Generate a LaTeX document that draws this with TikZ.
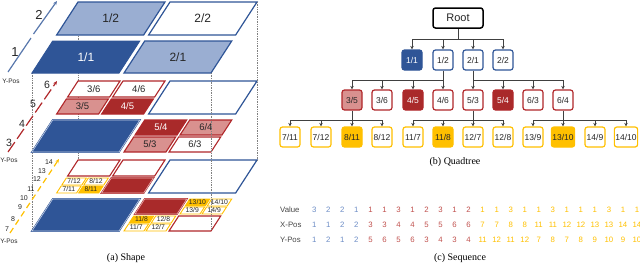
\documentclass[tikz,border=0pt]{standalone}
\usepackage{fontspec}
\setmainfont{Liberation Serif}
\setsansfont{Liberation Sans}
\usetikzlibrary{arrows.meta,calc}
\definecolor{dblue}{HTML}{2F5597}
\definecolor{lblue}{HTML}{9AAED2}
\definecolor{dred}{HTML}{A92A2A}
\definecolor{pinkc}{HTML}{D9918F}
\definecolor{ored}{HTML}{B0272A}
\definecolor{yel}{HTML}{FFC000}
\definecolor{sblue}{HTML}{6D8DC6}
\definecolor{sred}{HTML}{C0504D}
\definecolor{syel}{HTML}{FFC000}
\definecolor{arr}{HTML}{404040}
\definecolor{tdark}{HTML}{262626}
\newcommand\pc[8]{%
  \draw[#5] (#1,-#3) -- (#2,-#3) -- (#2,-#4) -- (#1,-#4) -- cycle;
  \node[#6] (#7) at ({(#1+#2)/2},{-(#3+#4)/2}) {#8};}
\newcommand\pcn[5]{%
  \draw[#5] (#1,-#3) -- (#2,-#3) -- (#2,-#4) -- (#1,-#4) -- cycle;}
\tikzset{
  cdb/.style={fill=dblue, draw=dblue, line width=1pt},
  cdbd/.style={fill=dblue, draw=dblue, line width=0.5pt, double=lblue!60!white, double distance=0.6pt},
  clb/.style={fill=lblue, draw=dblue, line width=1.2pt},
  cbo/.style={fill=white, draw=dblue, line width=1.2pt},
  cdr/.style={fill=dred, draw=ored, line width=1.1pt},
  cdrd/.style={fill=dred, draw=ored, line width=0.5pt, double=pinkc!70!white, double distance=0.6pt},
  cpk/.style={fill=pinkc, draw=ored, line width=1.1pt},
  cro/.style={fill=white, draw=ored, line width=1.1pt},
  cyf/.style={fill=yel, draw=yel, line width=0.9pt},
  cyo/.style={fill=white, draw=yel, line width=0.9pt},
  tk1/.style={text=tdark, inner sep=0pt, font=\sffamily\fontsize{12}{12}\selectfont},
  tw1/.style={text=white, inner sep=0pt, font=\sffamily\fontsize{12}{12}\selectfont},
  tk2/.style={text=tdark, inner sep=0pt, font=\sffamily\fontsize{9.5}{10}\selectfont},
  tw2/.style={text=white, inner sep=0pt, font=\sffamily\fontsize{9.5}{10}\selectfont},
  tk3/.style={text=tdark, inner sep=0pt, font=\sffamily\fontsize{6.8}{7}\selectfont},
  guide/.style={gray, line width=0.7pt, densely dotted},
  axlab/.style={inner sep=0pt, text=tdark, font=\sffamily\fontsize{#1}{#1}\selectfont},
  qn/.style={rounded corners=2.5pt, minimum width=20pt, minimum height=20pt, inner sep=1pt, line width=1.2pt, text=tdark, font=\sffamily\fontsize{8.5}{9}\selectfont},
  qdb/.style={qn, fill=dblue, draw=dblue, text=white},
  qbo/.style={qn, fill=white, draw=dblue},
  qpk/.style={qn, fill=pinkc, draw=ored},
  qdr/.style={qn, fill=dred, draw=ored, text=white},
  qro/.style={qn, fill=white, draw=ored},
  qyf/.style={qn, fill=yel, draw=yel},
  qyo/.style={qn, fill=white, draw=yel},
  con/.style={arr, line width=0.8pt},
  cona/.style={arr, line width=0.8pt, -{Stealth[length=3.5pt,width=3.5pt]}},
  captxt/.style={inner sep=0pt, font=\rmfamily\fontsize{10}{10}\selectfont},
  seq/.style={inner sep=0pt, font=\sffamily\fontsize{7.8}{8}\selectfont},
}
\begin{document}
\begin{tikzpicture}[x=1pt,y=-1pt]
\useasboundingbox (0,0) rectangle (640,265);
% ---------- (a) Shape ----------
\coordinate (g1a) at (32,73);  \coordinate (g1b) at (32,231);
\coordinate (g2a) at (78,2);   \coordinate (g2b) at (78,161);
\coordinate (g3a) at (211,73); \coordinate (g3b) at (211,231);
\coordinate (g4a) at (257,2);  \coordinate (g4b) at (257,161);
\draw[guide] (g1a) -- (g1b);
\draw[guide] (g2a) -- (g2b);
% level 1
\begin{scope}[shift={(32,73)}, xslant=0.648]
\pc{0}{87}{0}{32}{cdb}{tw1}{s11}{1/1}
\pc{92}{179}{0}{32}{clb}{tk1}{s21}{2/1}
\pc{0}{87}{38}{71}{clb}{tk1}{s12}{1/2}
\pc{92}{179}{38}{71}{cbo}{tk1}{s22}{2/2}
\end{scope}
% level 2
\begin{scope}[shift={(32,152)}, xslant=0.648]
\pcn{0}{87}{0}{32}{cdbd}
\pcn{92}{179}{38}{71}{cbo}
\pc{0}{42}{38}{53}{cpk}{tk2}{s35}{3/5}
\pc{0}{42}{55}{71}{cro}{tk2}{s36}{3/6}
\pc{45}{87}{38}{53}{cdr}{tw2}{s45}{4/5}
\pc{45}{87}{55}{71}{cro}{tk2}{s46}{4/6}
\pc{92}{134}{0}{15}{cpk}{tk2}{s53}{5/3}
\pc{92}{134}{17}{32}{cdr}{tw2}{s54}{5/4}
\pc{137}{179}{0}{15}{cro}{tk2}{s63}{6/3}
\pc{137}{179}{17}{32}{cpk}{tk2}{s64}{6/4}
\end{scope}
% level 3
\begin{scope}[shift={(32,231)}, xslant=0.648]
\pcn{0}{87}{0}{32}{cdbd}
\pcn{92}{179}{38}{71}{cbo}
\pcn{0}{42}{55}{71}{cro}
\pcn{45}{87}{55}{71}{cro}
\pcn{45}{87}{38}{53}{cdrd}
\pc{0}{20}{38}{45}{cyo}{tk3}{t711}{7/11}
\pc{22}{42}{38}{45}{cyf}{tk3}{t811}{8/11}
\pc{0}{20}{46}{53}{cyo}{tk3}{t712}{7/12}
\pc{22}{42}{46}{53}{cyo}{tk3}{t812}{8/12}
\pc{92}{112}{0}{7}{cyo}{tk3}{t117}{11/7}
\pc{114}{134}{0}{7}{cyo}{tk3}{t127}{12/7}
\pc{92}{112}{8}{15}{cyf}{tk3}{t118}{11/8}
\pc{114}{134}{8}{15}{cyo}{tk3}{t128}{12/8}
\pcn{92}{134}{17}{32}{cdrd}
\pcn{137}{179}{0}{15}{cro}
\pc{137}{157}{17}{24}{cyo}{tk3}{t139}{13/9}
\pc{159}{179}{17}{24}{cyo}{tk3}{t149}{14/9}
\pc{137}{157}{25}{32}{cyf}{tk3}{t1310}{13/10}
\pc{159}{179}{25}{32}{cyo}{tk3}{t1410}{14/10}
\end{scope}
\draw[guide] (g3a) -- (g3b);
\draw[guide] (g4a) -- (g4b);
% axes
\coordinate (a1s) at (8,72); \coordinate (a1m) at (31,38);
\coordinate (a1n) at (33.5,34); \coordinate (a1e) at (57,1);
\draw[dblue!80, line width=1.2pt] (a1s) -- (a1m);
\draw[dblue!80, line width=1.2pt, -{Stealth[length=4pt,width=3.5pt]}] (a1n) -- (a1e);
\node[axlab=13] (l1) at (15,52) {1};
\node[axlab=13] (l2) at (39,15) {2};
\node[axlab=6.5] (yp1) at (11,81) {Y-Pos};
\coordinate (a2s) at (8,152); \coordinate (a2e) at (57,81);
\draw[ored, line width=1.2pt, dash pattern=on 12pt off 4pt, -{Stealth[length=4pt,width=3.5pt]}] (a2s) -- (a2e);
\node[axlab=10.5] (l3) at (9,143) {3};
\node[axlab=10.5] (l4) at (22,124) {4};
\node[axlab=10.5] (l5) at (33,104) {5};
\node[axlab=10.5] (l6) at (47,85) {6};
\node[axlab=6.5] (yp2) at (9,160) {Y-Pos};
\coordinate (a3s) at (10,233); \coordinate (a3e) at (59,159);
\draw[yel, line width=1.2pt, dash pattern=on 6pt off 4pt, -{Stealth[length=4pt,width=3.5pt]}] (a3s) -- (a3e);
\node[axlab=7] (l7) at (7,229) {7};
\node[axlab=7] (l8) at (13,219) {8};
\node[axlab=7] (l9) at (20,207) {9};
\node[axlab=7] (l10) at (24,198) {10};
\node[axlab=7] (l11) at (31,189) {11};
\node[axlab=7] (l12) at (37,179) {12};
\node[axlab=7] (l13) at (42,171) {13};
\node[axlab=7] (l14) at (49,162) {14};
\node[axlab=6.5] (yp3) at (9,241) {Y-Pos};
\node[captxt] (capa) at (126,258) {(a) Shape};
% ---------- (b) Quadtree ----------
\node[qn, draw=black, line width=1.5pt, minimum width=50pt, font=\sffamily\fontsize{11}{11}\selectfont] (root) at (458,18) {Root};
\node[qdb] (q11) at (412,60) {1/1};
\node[qbo] (q12) at (443,60) {1/2};
\node[qbo] (q21) at (473,60) {2/1};
\node[qbo] (q22) at (503,60) {2/2};
\node[qpk] (q35) at (352,100) {3/5};
\node[qro] (q36) at (382,100) {3/6};
\node[qdr] (q45) at (413,100) {4/5};
\node[qro] (q46) at (443,100) {4/6};
\node[qro] (q53) at (473,100) {5/3};
\node[qdr] (q54) at (503,100) {5/4};
\node[qro] (q63) at (533,100) {6/3};
\node[qro] (q64) at (563,100) {6/4};
\node[qyo] (q711) at (290,137) {7/11};
\node[qyo] (q712) at (321,137) {7/12};
\node[qyf] (q811) at (352,137) {8/11};
\node[qyo] (q812) at (382,137) {8/12};
\node[qyo] (q117) at (413,137) {11/7};
\node[qyf] (q118) at (443,137) {11/8};
\node[qyo] (q127) at (473,137) {12/7};
\node[qyo] (q128) at (503,137) {12/8};
\node[qyo] (q139) at (533,137) {13/9};
\node[qyf] (q1310) at (563,137) {13/10};
\node[qyo] (q149) at (595,137) {14/9};
\node[qyo] (q1410) at (626,137) {14/10};
% connectors
\coordinate (b0) at (458,39);
\draw[con] (root.south) -- (b0);
\draw[con] (b0 -| q11) -- (b0 -| q22);
\foreach \c in {q11,q12,q21,q22} \draw[cona] (b0 -| \c) -- (\c.north);
\coordinate (b1) at (443,80);
\draw[con] (q12.south) -- (b1);
\draw[con] (b1 -| q35) -- (b1 -| q46);
\foreach \c in {q35,q36,q45,q46} \draw[cona] (b1 -| \c) -- (\c.north);
\coordinate (b2) at (473,80);
\draw[con] (q21.south) -- (b2);
\draw[con] (b2 -| q53) -- (b2 -| q64);
\foreach \c in {q53,q54,q63,q64} \draw[cona] (b2 -| \c) -- (\c.north);
\coordinate (b3) at (352,120);
\draw[con] (q35.south) -- (b3);
\draw[con] (b3 -| q711) -- (b3 -| q812);
\foreach \c in {q711,q712,q811,q812} \draw[cona] (b3 -| \c) -- (\c.north);
\coordinate (b4) at (473,120);
\draw[con] (q53.south) -- (b4);
\draw[con] (b4 -| q117) -- (b4 -| q128);
\foreach \c in {q117,q118,q127,q128} \draw[cona] (b4 -| \c) -- (\c.north);
\coordinate (b5) at (563,120);
\draw[con] (q64.south) -- (b5);
\draw[con] (b5 -| q139) -- (b5 -| q1410);
\foreach \c in {q139,q1310,q149,q1410} \draw[cona] (b5 -| \c) -- (\c.north);
\node[captxt] (capb) at (455,162) {(b) Quadtree};
% ---------- (c) Sequence ----------
\node[seq, anchor=west, text=tdark!85] (hv) at (280,210) {Value};
\node[seq, anchor=west, text=tdark!85] (hx) at (280,225) {X-Pos};
\node[seq, anchor=west, text=tdark!85] (hy) at (280,240) {Y-Pos};
\foreach \v [count=\i from 0] in {3,2,2,1,1,1,3,1,2,3,1,2,1,1,3,1,1,3,1,1,1,3,1,1} {
  \ifnum\i<4 \def\cc{sblue}\else\ifnum\i<12 \def\cc{sred}\else\def\cc{syel}\fi\fi
  \pgfmathsetmacro\xx{314.3+14.03*\i}
  \node[seq, text=\cc] (v\i) at (\xx,210) {\v};
}
\foreach \v [count=\i from 0] in {1,1,2,2,3,3,4,4,5,5,6,6,7,7,8,8,11,11,12,12,13,13,14,14} {
  \ifnum\i<4 \def\cc{sblue}\else\ifnum\i<12 \def\cc{sred}\else\def\cc{syel}\fi\fi
  \pgfmathsetmacro\xx{314.3+14.03*\i}
  \node[seq, text=\cc] (x\i) at (\xx,225) {\v};
}
\foreach \v [count=\i from 0] in {1,2,1,2,5,6,5,6,3,4,3,4,11,12,11,12,7,8,7,8,9,10,9,10} {
  \ifnum\i<4 \def\cc{sblue}\else\ifnum\i<12 \def\cc{sred}\else\def\cc{syel}\fi\fi
  \pgfmathsetmacro\xx{314.3+14.03*\i}
  \node[seq, text=\cc] (y\i) at (\xx,240) {\v};
}
\node[captxt] (capc) at (460,258) {(c) Sequence};
\end{tikzpicture}
\end{document}
